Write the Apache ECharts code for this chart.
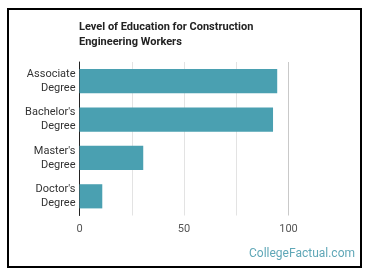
<!DOCTYPE html>
<html>
<head>
<meta charset="utf-8">
<script src="https://cdn.jsdelivr.net/npm/echarts@6/dist/echarts.min.js"></script>
<style>
html,body{margin:0;padding:0;background:#fff;}
#c{width:370px;height:278px;}
</style>
</head>
<body>
<div id="c"></div>
<script>
const titleText = "Level of Education for Construction\nEngineering Workers";
const categories = ["Associate\nDegree", "Bachelor's\nDegree", "Master's\nDegree", "Doctor's\nDegree"];
const values = [94.6, 92.6, 30.5, 10.9];
const xTicks = [0, 50, 100];
const watermark = "CollegeFactual.com";

const chart = echarts.init(document.getElementById('c'), null, {renderer: 'canvas'});
chart.setOption({
  animation: false,
  backgroundColor: '#fff',
  textStyle: {fontFamily: 'Roboto'},
  title: {
    text: titleText,
    left: 79, top: 20, padding: 0,
    textStyle: {fontFamily: 'Roboto', fontSize: 11, fontWeight: 'bold', color: '#222', lineHeight: 15}
  },
  graphic: [
    {type: 'rect', shape: {x: 8, y: 9, width: 353, height: 258},
     style: {fill: 'none', stroke: '#000', lineWidth: 2}, silent: true},
    {type: 'text', right: 15, top: 248,
     style: {text: watermark, fill: '#5fa7b7', font: '12px Roboto'}}
  ],
  grid: {left: 79.5, right: 81.5, top: 62, bottom: 62.5, containLabel: false},
  xAxis: {
    type: 'value', min: 0, max: 100, interval: 25,
    axisLine: {show: false}, axisTick: {show: false},
    splitLine: {show: true, lineStyle: {color: ['#e3e3e3', '#e3e3e3', '#e3e3e3', '#e3e3e3', '#c9c9c9'], width: 1}},
    axisLabel: {
      color: '#555', fontSize: 11, margin: 8,
      formatter: v => xTicks.includes(v) ? String(v) : ''
    }
  },
  yAxis: {
    type: 'category', data: categories, inverse: true,
    axisLine: {show: true, lineStyle: {color: '#222', width: 1}},
    axisTick: {show: false},
    axisLabel: {color: '#333', fontSize: 11, lineHeight: 14, margin: 4, align: 'right'}
  },
  series: [{
    type: 'bar', data: values, barCategoryGap: '37%',
    itemStyle: {color: '#4aa0b1'}
  }]
});
</script>
</body>
</html>
